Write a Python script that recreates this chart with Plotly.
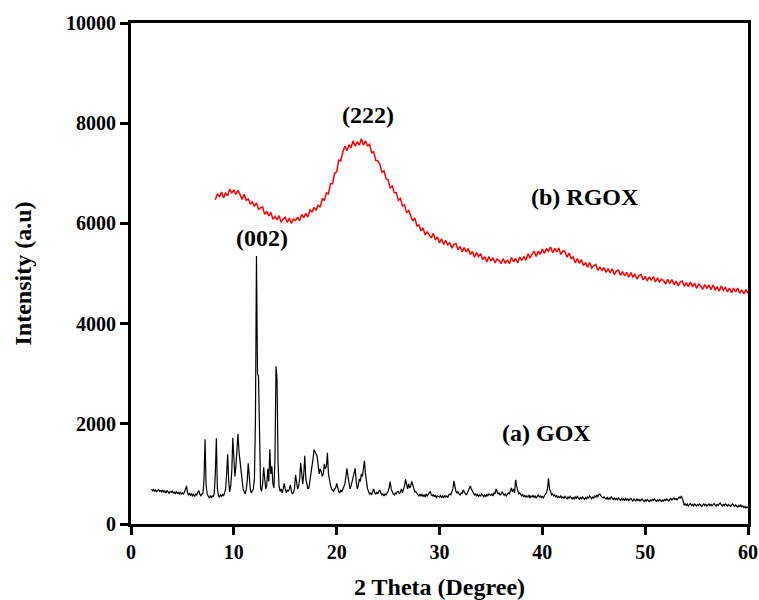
import numpy as np
import plotly.graph_objects as go

# XRD patterns: 2-theta sampling of each scan (start, step)
gox_start, gox_step = 2.0, 0.1
rgox_start, rgox_step = 8.2, 0.2

# (a) GOX intensity, one row per degree (2.0 ... 60.0)
gox_intensity = [
    700, 660, 690, 650, 680, 640, 670, 690, 650, 670,
    640, 680, 630, 660, 620, 670, 640, 610, 650, 630,
    660, 620, 640, 600, 650, 610, 630, 600, 640, 590,
    620, 600, 640, 700, 760, 620, 580, 610, 570, 600,
    560, 590, 550, 600, 580, 640, 660, 590, 560, 600,
    620, 900, 1690, 780, 600, 560, 520, 560, 530, 560,
    540, 620, 1000, 1710, 700, 570, 540, 580, 550, 590,
    560, 620, 700, 1000, 1390, 850, 640, 760, 1050, 1720,
    1300, 950, 1150, 1500, 1800, 1450, 1250, 1000, 820, 700,
    650, 600, 680, 850, 1210, 950, 700, 620, 680, 700,
    900, 2050, 5350, 3000, 2950, 1200, 720, 650, 800, 1130,
    850, 700, 760, 1100, 850, 1490, 1000, 1150, 800, 720,
    1300, 3150, 2900, 1200, 750, 650, 700, 620, 700, 810,
    700, 620, 680, 650, 700, 780, 650, 600, 640, 700,
    980, 820, 700, 750, 900, 1220, 900, 800, 1000, 1360,
    900, 780, 700, 720, 850, 950, 1100, 1300, 1480, 1450,
    1400, 1350, 1200, 1000, 1100, 1050, 950, 1000, 1200, 1100,
    1150, 1420, 1000, 850, 780, 700, 680, 650, 700, 720,
    810, 700, 650, 620, 680, 640, 700, 780, 800, 950,
    1110, 950, 800, 700, 760, 850, 900, 1000, 1110, 850,
    700, 760, 900, 850, 1000, 950, 1150, 1260, 1000, 800,
    700, 650, 600, 620, 580, 650, 700, 620, 600, 640,
    600, 650, 680, 620, 580, 600, 560, 600, 580, 620,
    650, 720, 845, 700, 620, 600, 580, 620, 600, 650,
    650, 600, 640, 700, 620, 680, 760, 890, 780, 700,
    800, 720, 760, 850, 780, 700, 640, 650, 600, 580,
    560, 600, 560, 590, 550, 580, 540, 600, 560, 600,
    620, 650, 580, 560, 590, 540, 570, 530, 560, 550,
    540, 570, 530, 560, 520, 570, 540, 560, 530, 580,
    600, 580, 650, 700, 860, 720, 650, 620, 650, 600,
    580, 620, 600, 680, 640, 600, 580, 620, 660, 700,
    760, 700, 640, 620, 580, 600, 560, 590, 550, 580,
    560, 600, 570, 540, 580, 550, 590, 560, 600, 580,
    570, 600, 560, 620, 600, 700, 640, 600, 620, 580,
    600, 650, 600, 570, 600, 560, 590, 620, 600, 650,
    720, 640, 700, 620, 880, 760, 650, 600, 620, 580,
    560, 590, 540, 580, 530, 560, 540, 580, 520, 560,
    540, 570, 530, 560, 520, 550, 580, 540, 560, 530,
    550, 520, 570, 600, 620, 700, 910, 700, 650, 580,
    600, 560, 580, 540, 570, 520, 550, 530, 560, 520,
    540, 510, 550, 520, 500, 540, 510, 550, 520, 500,
    530, 500, 540, 510, 550, 520, 490, 530, 500, 540,
    510, 490, 530, 500, 540, 520, 560, 530, 500, 540,
    520, 560, 530, 580, 550, 590, 600, 560, 540, 520,
    540, 510, 500, 530, 490, 520, 500, 540, 510, 490,
    520, 490, 510, 480, 520, 490, 470, 510, 480, 500,
    470, 510, 480, 500, 470, 490, 510, 480, 460, 500,
    480, 460, 500, 470, 490, 460, 480, 500, 470, 450,
    480, 460, 490, 470, 450, 480, 460, 490, 470, 500,
    470, 450, 480, 460, 490, 470, 450, 480, 460, 490,
    470, 500, 480, 460, 490, 510, 480, 500, 520, 490,
    510, 480, 520, 540, 510, 560, 520, 430, 380, 400,
    370, 400, 360, 390, 410, 370, 390, 360, 400, 380,
    360, 390, 370, 400, 380, 350, 380, 400, 370, 390,
    360, 380, 400, 370, 390, 360, 380, 410, 380, 360,
    390, 370, 400, 420, 380, 360, 390, 370, 400, 380,
    360, 390, 370, 350, 380, 400, 370, 350, 380, 360,
    340, 370, 350, 380, 340, 360, 330, 350, 320, 340,
    330,
]

# (b) RGOX intensity, one row per two degrees (8.2 ... 60.0)
rgox_intensity = [
    6470, 6590, 6530, 6625, 6510, 6605, 6550, 6685, 6610, 6665,
    6580, 6660, 6580, 6480, 6580, 6460, 6490, 6380, 6430, 6340,
    6410, 6280, 6310, 6330, 6180, 6240, 6150, 6220, 6080, 6140,
    6070, 6155, 6025, 6090, 6125, 6020, 6108, 5998, 6090, 6055,
    6125, 6050, 6180, 6115, 6200, 6125, 6270, 6230, 6320, 6260,
    6370, 6320, 6490, 6460, 6610, 6590, 6790, 6790, 7000, 7030,
    7260, 7250, 7430, 7540, 7450, 7570, 7510, 7650, 7540, 7630,
    7560, 7690, 7560, 7650, 7550, 7580, 7410, 7430, 7260, 7250,
    7180, 7020, 7050, 6890, 6870, 6710, 6750, 6610, 6610, 6460,
    6500, 6350, 6370, 6210, 6260, 6170, 6050, 6110, 5950, 5970,
    5850, 5910, 5770, 5830, 5780, 5710, 5800, 5670, 5730, 5610,
    5690, 5580, 5660, 5570, 5620, 5505, 5580, 5600, 5475, 5540,
    5430, 5515, 5430, 5500, 5380, 5440, 5325, 5420, 5340, 5395,
    5280, 5335, 5230, 5340, 5250, 5315, 5210, 5290, 5255, 5200,
    5300, 5200, 5270, 5195, 5320, 5235, 5300, 5210, 5330, 5260,
    5340, 5265, 5390, 5315, 5380, 5445, 5340, 5445, 5380, 5490,
    5400, 5500, 5445, 5530, 5415, 5505, 5430, 5510, 5380, 5450,
    5440, 5325, 5410, 5300, 5335, 5210, 5300, 5200, 5275, 5160,
    5215, 5125, 5220, 5110, 5155, 5180, 5060, 5135, 5055, 5120,
    5020, 5100, 5010, 5095, 4980, 5050, 5070, 4960, 5040, 4950,
    5025, 4925, 5020, 4930, 4985, 4890, 4960, 4980, 4875, 4945,
    4850, 4935, 4865, 4940, 4830, 4915, 4830, 4890, 4855, 4790,
    4885, 4800, 4880, 4775, 4850, 4755, 4830, 4850, 4745, 4820,
    4735, 4830, 4735, 4810, 4700, 4785, 4750, 4685, 4780, 4705,
    4770, 4675, 4770, 4675, 4730, 4645, 4750, 4665, 4720, 4635,
    4710, 4615, 4710, 4635, 4710, 4608, 4675, 4590, 4678, 4605,
]

# Peak / sample labels: (text, 2-theta, intensity)
labels = [
    ("(222)", 23.05, 8160),
    ("(002)", 12.75, 5710),
    ("(b) RGOX", 44.1, 6520),
    ("(a) GOX", 40.4, 1820),
]

x_gox = gox_start + gox_step * np.arange(len(gox_intensity))
x_rgox = rgox_start + rgox_step * np.arange(len(rgox_intensity))

FONT = "Liberation Serif"

fig = go.Figure()
fig.add_trace(go.Scatter(
    x=x_gox, y=gox_intensity, mode="lines", name="(a) GOX",
    line=dict(color="black", width=1.2),
))
fig.add_trace(go.Scatter(
    x=x_rgox, y=rgox_intensity, mode="lines", name="(b) RGOX",
    line=dict(color="#ff0000", width=1.5),
))

for text, lx, ly in labels:
    fig.add_annotation(
        x=lx, y=ly, text=text, showarrow=False,
        font=dict(family=FONT, size=24, color="black", weight="bold"),
    )

axis_common = dict(
    showgrid=False, zeroline=False, automargin=False,
    showline=True, linecolor="black", linewidth=3, mirror=True,
    ticks="outside", ticklen=8, tickwidth=2.5, tickcolor="black",
    tickformat="d",
    tickfont=dict(family=FONT, size=20, color="black", weight="bold"),
)

fig.update_xaxes(
    range=[0, 60], tick0=0, dtick=10,
    title=dict(text="2 Theta (Degree)", standoff=22,
               font=dict(family=FONT, size=24, color="black", weight="bold")),
    **axis_common,
)
fig.update_yaxes(
    range=[0, 10000], tick0=0, dtick=2000,
    title=dict(text="Intensity (a.u)", standoff=28,
               font=dict(family=FONT, size=24, color="black", weight="bold")),
    **axis_common,
)

fig.update_layout(
    width=759, height=600,
    margin=dict(l=131, r=11, t=23, b=76),
    plot_bgcolor="white", paper_bgcolor="white",
    showlegend=False,
)

fig.write_html("out.html")
